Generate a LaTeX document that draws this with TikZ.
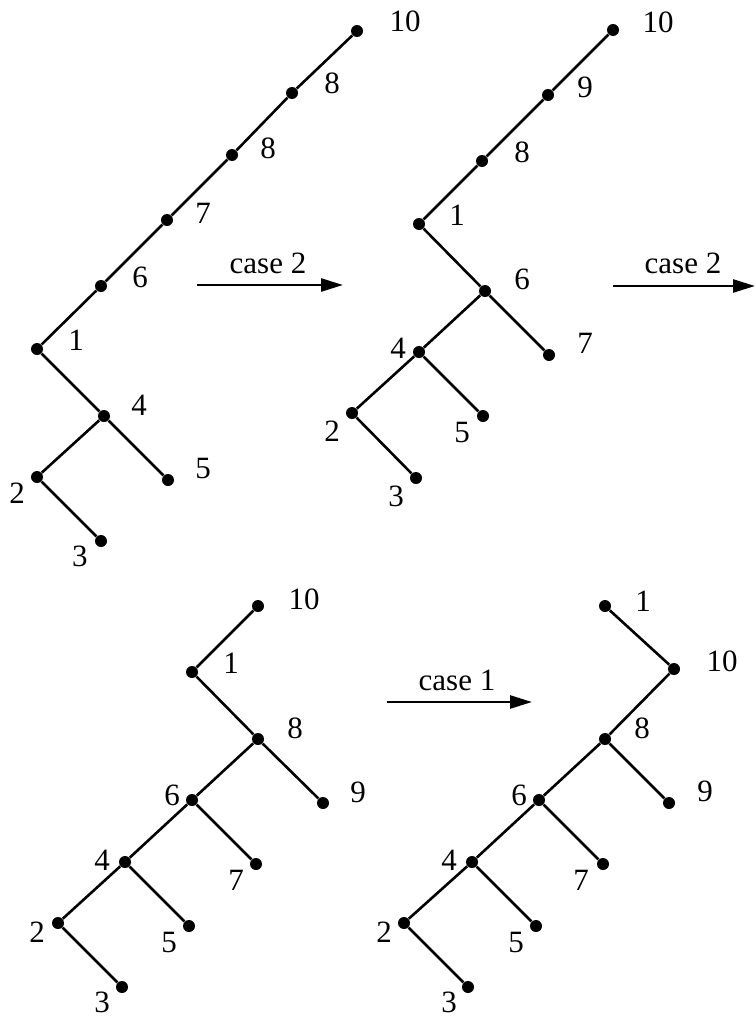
\documentclass[tikz,border=0pt]{standalone}
\usepackage{fontspec}
\setmainfont{Liberation Serif}
\usepackage{tikz}
\usetikzlibrary{arrows.meta}

\begin{document}
\begin{tikzpicture}[
  x=0.5pt, y=-0.5pt,
  vertex/.style={circle, fill=black, inner sep=0pt, minimum size=6pt},
  num/.style={inner sep=0pt, font=\fontsize{15.5}{18}\selectfont},
  edge/.style={line width=1.3pt},
  move/.style={-{Triangle[length=11pt,width=6.5pt]}, line width=1.3pt}
]
\useasboundingbox (0,0) rectangle (755,1017);

% first tree
\node[vertex] (a10) at (357,31) {};
\node[vertex] (a8) at (292,93) {};
\node[vertex] (a8b) at (232,155) {};
\node[vertex] (a7) at (167,220) {};
\node[vertex] (a6) at (101,286) {};
\node[vertex] (a1) at (37,349) {};
\node[vertex] (a4) at (104,416) {};
\node[vertex] (a2) at (37,477) {};
\node[vertex] (a5) at (168,480) {};
\node[vertex] (a3) at (101,541) {};

\node[num] (la10) at (405,21) {10};
\node[num] (la8) at (332,83) {8};
\node[num] (la8b) at (268,148) {8};
\node[num] (la7) at (203,213) {7};
\node[num] (la6) at (140,277) {6};
\node[num] (la1) at (76,340) {1};
\node[num] (la4) at (139,405) {4};
\node[num] (la5) at (203,468) {5};
\node[num] (la2) at (17,493) {2};
\node[num] (la3) at (80,556) {3};

\draw[edge] (a10) -- (a8) -- (a8b) -- (a7) -- (a6) -- (a1) -- (a4) -- (a2) -- (a3);
\draw[edge] (a4) -- (a5);

% second tree
\node[vertex] (b10) at (613,30) {};
\node[vertex] (b9) at (548,95) {};
\node[vertex] (b8) at (482,161) {};
\node[vertex] (b1) at (419,224) {};
\node[vertex] (b6) at (485,291) {};
\node[vertex] (b7) at (549,355) {};
\node[vertex] (b4) at (419,352) {};
\node[vertex] (b5) at (483,416) {};
\node[vertex] (b2) at (352,413) {};
\node[vertex] (b3) at (416,478) {};

\node[num] (lb10) at (658,22) {10};
\node[num] (lb9) at (585,87) {9};
\node[num] (lb8) at (522,152) {8};
\node[num] (lb1) at (457,215) {1};
\node[num] (lb6) at (522,279) {6};
\node[num] (lb7) at (585,343) {7};
\node[num] (lb4) at (398,348) {4};
\node[num] (lb5) at (462,432) {5};
\node[num] (lb2) at (332,431) {2};
\node[num] (lb3) at (396,496) {3};

\draw[edge] (b10) -- (b9) -- (b8) -- (b1) -- (b6) -- (b4) -- (b2) -- (b3);
\draw[edge] (b6) -- (b7);
\draw[edge] (b4) -- (b5);

% third tree
\node[vertex] (c10) at (258,606) {};
\node[vertex] (c1) at (192,672) {};
\node[vertex] (c8) at (258,739) {};
\node[vertex] (c9) at (323,803) {};
\node[vertex] (c6) at (192,800) {};
\node[vertex] (c7) at (256,864) {};
\node[vertex] (c4) at (125,862) {};
\node[vertex] (c5) at (189,926) {};
\node[vertex] (c2) at (58,923) {};
\node[vertex] (c3) at (122,987) {};

\node[num] (lc10) at (304,599) {10};
\node[num] (lc1) at (231,663) {1};
\node[num] (lc8) at (295,728) {8};
\node[num] (lc9) at (358,792) {9};
\node[num] (lc6) at (172,795) {6};
\node[num] (lc7) at (236,880) {7};
\node[num] (lc4) at (102,860) {4};
\node[num] (lc5) at (169,942) {5};
\node[num] (lc2) at (37,932) {2};
\node[num] (lc3) at (102,1002) {3};

\draw[edge] (c10) -- (c1) -- (c8) -- (c6) -- (c4) -- (c2) -- (c3);
\draw[edge] (c8) -- (c9);
\draw[edge] (c6) -- (c7);
\draw[edge] (c4) -- (c5);

% fourth tree
\node[vertex] (d1) at (605,606) {};
\node[vertex] (d10) at (674,669) {};
\node[vertex] (d8) at (605,739) {};
\node[vertex] (d9) at (669,803) {};
\node[vertex] (d6) at (539,800) {};
\node[vertex] (d7) at (603,864) {};
\node[vertex] (d4) at (472,862) {};
\node[vertex] (d5) at (536,926) {};
\node[vertex] (d2) at (404,923) {};
\node[vertex] (d3) at (468,987) {};

\node[num] (ld1) at (643,601) {1};
\node[num] (ld10) at (722,661) {10};
\node[num] (ld8) at (642,728) {8};
\node[num] (ld9) at (705,791) {9};
\node[num] (ld6) at (519,795) {6};
\node[num] (ld7) at (581,880) {7};
\node[num] (ld4) at (449,860) {4};
\node[num] (ld5) at (516,942) {5};
\node[num] (ld2) at (384,932) {2};
\node[num] (ld3) at (449,1002) {3};

\draw[edge] (d1) -- (d10) -- (d8) -- (d6) -- (d4) -- (d2) -- (d3);
\draw[edge] (d8) -- (d9);
\draw[edge] (d6) -- (d7);
\draw[edge] (d4) -- (d5);

% cases
\coordinate (m1s) at (197,285);
\coordinate (m1e) at (343,285);
\coordinate (m2s) at (613,286);
\coordinate (m2e) at (755,286);
\coordinate (m3s) at (387,702);
\coordinate (m3e) at (532,702);
\node[num] (case1) at (268,263) {case 2};
\node[num] (case2) at (683,263) {case 2};
\node[num] (case3) at (457,680) {case 1};
\draw[move] (m1s) -- (m1e);
\draw[move] (m2s) -- (m2e);
\draw[move] (m3s) -- (m3e);
\end{tikzpicture}
\end{document}
